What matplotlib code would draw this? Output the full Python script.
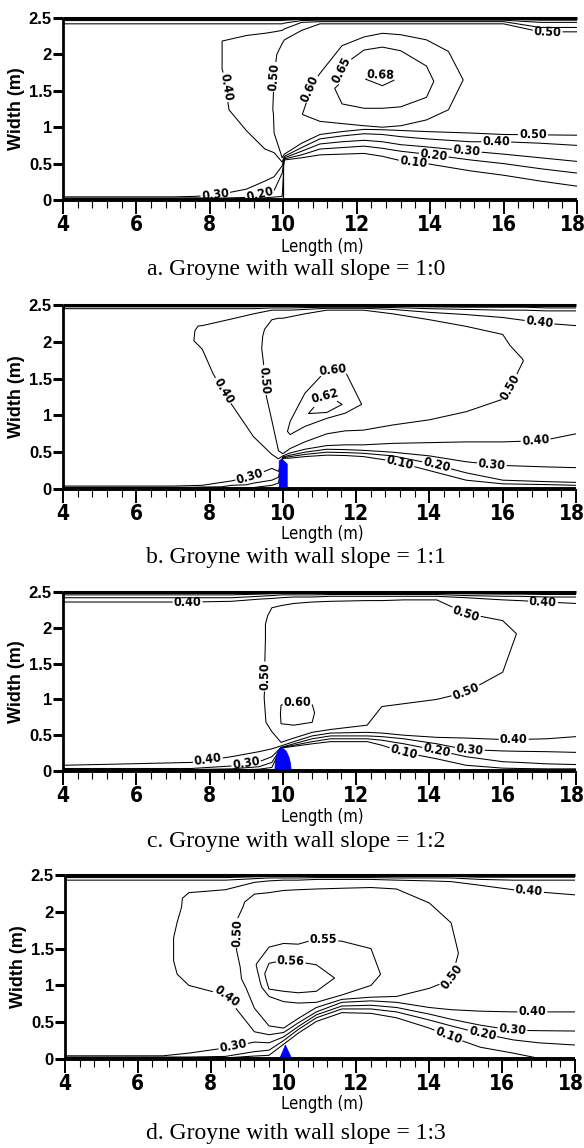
import numpy as np
import matplotlib
matplotlib.use("Agg")
import matplotlib.pyplot as plt
import matplotlib.tri as mtri
from matplotlib.patches import Polygon
from matplotlib.transforms import ScaledTranslation

# ---------------------------------------------------------------------------
# Depth-averaged velocity (m/s) sampled along cross-sections of the flume.
# For each panel: station positions along the flume (m), and for every station
# the lateral positions (m) with the velocity measured there.
# ---------------------------------------------------------------------------

# a. wall slope 1:0
A_X = [4.0, 5.5, 7.0, 7.6, 8.2, 9.0, 9.5, 9.75, 9.97, 10.03, 10.5, 11.0, 11.6,
       12.2, 12.7, 13.2, 13.9, 14.5, 15.1, 16.0, 17.0, 18.0]
A_Y = [
    [0, 0.015, 0.03, 0.045, 0.15, 0.6, 1.2, 1.8, 2.3, 2.42, 2.46, 2.485, 2.5],
    [0, 0.015, 0.03, 0.045, 0.15, 0.6, 1.2, 1.8, 2.3, 2.42, 2.46, 2.485, 2.5],
    [0, 0.015, 0.03, 0.045, 0.15, 0.6, 1.2, 1.8, 2.3, 2.42, 2.46, 2.485, 2.5],
    [0, 0.015, 0.03, 0.05, 0.18, 0.6, 1.2, 1.8, 2.3, 2.42, 2.46, 2.485, 2.5],
    [0, 0.012, 0.025, 0.07, 0.25, 0.7, 1.2, 1.8, 2.2, 2.3, 2.42, 2.46, 2.485, 2.5],
    [0, 0.015, 0.035, 0.15, 0.5, 0.95, 1.3, 1.8, 2.1, 2.26, 2.42, 2.46, 2.485, 2.5],
    [0, 0.03, 0.09, 0.26, 0.45, 0.70, 1.0, 1.5, 2.0, 2.15, 2.29, 2.42, 2.46, 2.485, 2.5],
    [0, 0.04, 0.13, 0.32, 0.50, 0.65, 0.92, 1.2, 1.7, 2.0, 2.2, 2.31, 2.42, 2.46, 2.485, 2.5],
    [0, 0.05, 0.37, 0.47, 0.52, 0.58, 0.8, 1.5, 2.0, 2.15, 2.33, 2.42, 2.46, 2.485, 2.5],
    [0, 0.3, 0.53, 0.55, 0.565, 0.58, 0.60, 0.63, 0.8, 1.2, 1.8, 2.05, 2.2, 2.35, 2.43, 2.465, 2.485, 2.5],
    [0, 0.3, 0.5, 0.58, 0.62, 0.67, 0.72, 0.78, 0.95, 1.17, 1.5, 2.0, 2.2, 2.33, 2.44, 2.465, 2.485, 2.5],
    [0, 0.3, 0.55, 0.62, 0.70, 0.77, 0.84, 0.90, 0.97, 1.08, 1.3, 1.5, 1.74, 2.05, 2.3, 2.42, 2.45, 2.47, 2.485, 2.5],
    [0, 0.3, 0.55, 0.63, 0.72, 0.80, 0.88, 0.94, 0.99, 1.05, 1.32, 1.55, 1.84, 2.12, 2.3, 2.42, 2.45, 2.47, 2.485, 2.5],
    [0, 0.3, 0.56, 0.64, 0.74, 0.82, 0.91, 0.97, 1.02, 1.26, 1.45, 1.66, 1.85, 2.06, 2.24, 2.34, 2.42, 2.45, 2.47, 2.485, 2.5],
    [0, 0.3, 0.52, 0.60, 0.71, 0.80, 0.90, 0.965, 1.0, 1.26, 1.57, 1.65, 1.72, 2.10, 2.29, 2.36, 2.42, 2.45, 2.47, 2.485, 2.5],
    [0, 0.3, 0.46, 0.54, 0.67, 0.76, 0.87, 0.955, 1.02, 1.28, 1.65, 2.05, 2.27, 2.37, 2.42, 2.45, 2.47, 2.485, 2.5],
    [0, 0.3, 0.42, 0.50, 0.63, 0.73, 0.84, 0.94, 1.10, 1.41, 1.62, 1.84, 2.20, 2.36, 2.42, 2.45, 2.47, 2.485, 2.5],
    [0, 0.3, 0.37, 0.45, 0.59, 0.70, 0.82, 0.93, 1.24, 1.65, 2.04, 2.30, 2.42, 2.45, 2.47, 2.485, 2.5],
    [0, 0.25, 0.32, 0.40, 0.55, 0.67, 0.80, 0.92, 1.3, 1.65, 2.0, 2.3, 2.42, 2.45, 2.47, 2.485, 2.5],
    [0, 0.2, 0.27, 0.34, 0.50, 0.63, 0.80, 0.90, 1.3, 1.8, 2.2, 2.35, 2.42, 2.45, 2.47, 2.485, 2.5],
    [0, 0.12, 0.19, 0.26, 0.43, 0.58, 0.78, 0.895, 1.3, 1.8, 2.2, 2.31, 2.37, 2.44, 2.47, 2.49, 2.5],
    [0, 0.06, 0.12, 0.19, 0.37, 0.53, 0.75, 0.89, 1.3, 1.8, 2.2, 2.31, 2.37, 2.44, 2.47, 2.49, 2.5],
]
A_V = [
    [0, 0.12, 0.22, 0.31, 0.35, 0.36, 0.37, 0.37, 0.365, 0.30, 0.22, 0.12, 0],
    [0, 0.12, 0.22, 0.31, 0.35, 0.36, 0.37, 0.37, 0.365, 0.30, 0.22, 0.12, 0],
    [0, 0.12, 0.22, 0.31, 0.35, 0.36, 0.37, 0.37, 0.365, 0.30, 0.22, 0.12, 0],
    [0, 0.12, 0.20, 0.30, 0.34, 0.36, 0.37, 0.375, 0.37, 0.30, 0.22, 0.12, 0],
    [0, 0.10, 0.20, 0.30, 0.34, 0.37, 0.38, 0.39, 0.39, 0.38, 0.30, 0.22, 0.12, 0],
    [0, 0.10, 0.20, 0.30, 0.36, 0.40, 0.43, 0.45, 0.45, 0.40, 0.30, 0.22, 0.12, 0],
    [0, 0.10, 0.20, 0.30, 0.35, 0.40, 0.44, 0.47, 0.48, 0.47, 0.40, 0.30, 0.22, 0.12, 0],
    [0, 0.10, 0.20, 0.30, 0.36, 0.40, 0.50, 0.505, 0.50, 0.49, 0.45, 0.40, 0.30, 0.22, 0.12, 0],
    [0, 0.10, 0.20, 0.30, 0.40, 0.50, 0.53, 0.535, 0.52, 0.50, 0.40, 0.30, 0.22, 0.12, 0],
    [0, 0.02, 0.04, 0.10, 0.20, 0.30, 0.40, 0.50, 0.54, 0.56, 0.55, 0.53, 0.50, 0.40, 0.30, 0.22, 0.12, 0],
    [0, 0.025, 0.04, 0.10, 0.20, 0.30, 0.40, 0.50, 0.56, 0.599, 0.585, 0.57, 0.55, 0.50, 0.40, 0.30, 0.18, 0],
    [0, 0.025, 0.04, 0.10, 0.20, 0.30, 0.40, 0.50, 0.55, 0.60, 0.625, 0.63, 0.60, 0.575, 0.56, 0.50, 0.40, 0.30, 0.18, 0],
    [0, 0.025, 0.04, 0.10, 0.20, 0.30, 0.40, 0.50, 0.55, 0.60, 0.65, 0.66, 0.65, 0.60, 0.57, 0.50, 0.40, 0.30, 0.18, 0],
    [0, 0.025, 0.04, 0.10, 0.20, 0.30, 0.40, 0.50, 0.60, 0.65, 0.67, 0.679, 0.67, 0.65, 0.60, 0.56, 0.50, 0.40, 0.30, 0.18, 0],
    [0, 0.025, 0.04, 0.10, 0.20, 0.30, 0.40, 0.50, 0.60, 0.65, 0.68, 0.69, 0.68, 0.65, 0.60, 0.56, 0.50, 0.40, 0.30, 0.18, 0],
    [0, 0.025, 0.04, 0.10, 0.20, 0.30, 0.40, 0.50, 0.60, 0.65, 0.675, 0.65, 0.60, 0.56, 0.50, 0.40, 0.30, 0.18, 0],
    [0, 0.025, 0.04, 0.10, 0.20, 0.30, 0.40, 0.50, 0.60, 0.65, 0.66, 0.65, 0.60, 0.55, 0.50, 0.40, 0.30, 0.18, 0],
    [0, 0.025, 0.04, 0.10, 0.20, 0.30, 0.40, 0.50, 0.60, 0.63, 0.60, 0.55, 0.50, 0.40, 0.30, 0.18, 0],
    [0, 0.025, 0.04, 0.10, 0.20, 0.30, 0.40, 0.50, 0.57, 0.585, 0.57, 0.54, 0.50, 0.40, 0.30, 0.18, 0],
    [0, 0.025, 0.04, 0.10, 0.20, 0.30, 0.40, 0.50, 0.55, 0.56, 0.55, 0.52, 0.50, 0.40, 0.30, 0.18, 0],
    [0, 0.025, 0.04, 0.10, 0.20, 0.30, 0.40, 0.50, 0.54, 0.545, 0.53, 0.50, 0.40, 0.30, 0.20, 0.10, 0],
    [0, 0.025, 0.04, 0.10, 0.20, 0.30, 0.40, 0.50, 0.54, 0.545, 0.53, 0.50, 0.40, 0.30, 0.20, 0.10, 0],
]

# b. wall slope 1:1
B_X = [4.0, 5.5, 7.0, 7.8, 8.6, 9.2, 9.7, 9.88, 10.0, 10.2, 10.6, 11.2, 11.7,
       12.2, 13.0, 14.0, 15.0, 16.0, 16.6, 17.2, 18.0]
B_Y = [
    [0, 0.015, 0.04, 0.15, 0.6, 1.2, 1.8, 2.3, 2.45, 2.475, 2.49, 2.5],
    [0, 0.015, 0.04, 0.15, 0.6, 1.2, 1.8, 2.3, 2.45, 2.475, 2.49, 2.5],
    [0, 0.015, 0.04, 0.15, 0.6, 1.2, 1.8, 2.3, 2.45, 2.475, 2.49, 2.5],
    [0, 0.015, 0.05, 0.2, 0.6, 1.0, 1.6, 1.9, 2.1, 2.2, 2.26, 2.35, 2.45, 2.475, 2.49, 2.5],
    [0, 0.02, 0.11, 0.4, 0.8, 1.15, 1.5, 1.9, 2.15, 2.31, 2.38, 2.45, 2.475, 2.49, 2.5],
    [0, 0.03, 0.18, 0.45, 0.71, 1.1, 1.6, 2.0, 2.2, 2.38, 2.45, 2.475, 2.49, 2.5],
    [0, 0.05, 0.12, 0.28, 0.47, 0.93, 1.3, 1.8, 2.15, 2.30, 2.43, 2.46, 2.48, 2.49, 2.5],
    [0, 0.08, 0.16, 0.24, 0.36, 0.41, 0.52, 0.6, 0.72, 1.3, 1.8, 2.2, 2.32, 2.43, 2.46, 2.48, 2.49, 2.5],
    [0, 0.30, 0.40, 0.415, 0.425, 0.435, 0.45, 0.48, 0.6, 0.72, 1.2, 1.8, 2.2, 2.32, 2.43, 2.46, 2.48, 2.49, 2.5],
    [0, 0.3, 0.42, 0.44, 0.46, 0.49, 0.55, 0.74, 0.82, 0.92, 1.3, 1.8, 2.2, 2.34, 2.43, 2.46, 2.48, 2.49, 2.5],
    [0, 0.3, 0.44, 0.47, 0.50, 0.54, 0.64, 0.85, 1.0, 1.3, 1.7, 2.1, 2.38, 2.44, 2.465, 2.48, 2.495, 2.5],
    [0, 0.3, 0.46, 0.50, 0.54, 0.59, 0.75, 0.96, 1.04, 1.15, 1.28, 1.62, 2.0, 2.3, 2.43, 2.455, 2.47, 2.485, 2.495, 2.5],
    [0, 0.3, 0.455, 0.495, 0.535, 0.60, 0.79, 1.03, 1.15, 1.60, 2.0, 2.3, 2.43, 2.455, 2.47, 2.485, 2.495, 2.5],
    [0, 0.3, 0.44, 0.485, 0.525, 0.60, 0.80, 1.15, 1.6, 2.0, 2.3, 2.43, 2.455, 2.47, 2.485, 2.495, 2.5],
    [0, 0.2, 0.38, 0.45, 0.50, 0.62, 0.87, 1.2, 1.8, 2.2, 2.38, 2.44, 2.465, 2.48, 2.495, 2.5],
    [0, 0.15, 0.25, 0.35, 0.45, 0.63, 0.94, 1.3, 1.8, 2.1, 2.30, 2.40, 2.45, 2.475, 2.49, 2.5],
    [0, 0.06, 0.12, 0.22, 0.37, 0.64, 1.05, 1.5, 1.9, 2.21, 2.37, 2.44, 2.47, 2.49, 2.5],
    [0, 0.04, 0.07, 0.12, 0.32, 0.64, 1.22, 1.6, 1.9, 2.1, 2.33, 2.43, 2.47, 2.49, 2.5],
    [0, 0.035, 0.065, 0.11, 0.31, 0.65, 1.2, 1.75, 2.05, 2.29, 2.43, 2.47, 2.49, 2.5],
    [0, 0.03, 0.06, 0.10, 0.30, 0.67, 1.2, 1.75, 2.0, 2.25, 2.42, 2.46, 2.485, 2.5],
    [0, 0.03, 0.05, 0.09, 0.29, 0.75, 1.2, 1.75, 2.0, 2.22, 2.42, 2.46, 2.485, 2.5],
]
B_V = [
    [0, 0.15, 0.30, 0.35, 0.36, 0.37, 0.37, 0.37, 0.30, 0.20, 0.10, 0],
    [0, 0.15, 0.30, 0.35, 0.36, 0.37, 0.37, 0.37, 0.30, 0.20, 0.10, 0],
    [0, 0.15, 0.30, 0.35, 0.36, 0.37, 0.375, 0.37, 0.30, 0.20, 0.10, 0],
    [0, 0.15, 0.30, 0.35, 0.36, 0.37, 0.385, 0.40, 0.41, 0.405, 0.39, 0.37, 0.30, 0.20, 0.10, 0],
    [0, 0.15, 0.30, 0.35, 0.38, 0.40, 0.425, 0.44, 0.44, 0.40, 0.36, 0.30, 0.20, 0.10, 0],
    [0, 0.15, 0.30, 0.36, 0.40, 0.45, 0.47, 0.48, 0.47, 0.40, 0.30, 0.20, 0.10, 0],
    [0, 0.10, 0.20, 0.30, 0.40, 0.50, 0.52, 0.525, 0.52, 0.50, 0.40, 0.30, 0.20, 0.10, 0],
    [0, 0.10, 0.20, 0.30, 0.38, 0.40, 0.50, 0.55, 0.56, 0.55, 0.54, 0.52, 0.50, 0.40, 0.30, 0.20, 0.10, 0],
    [0, 0.02, 0.05, 0.10, 0.20, 0.30, 0.40, 0.50, 0.56, 0.59, 0.56, 0.545, 0.52, 0.50, 0.40, 0.30, 0.20, 0.10, 0],
    [0, 0.03, 0.10, 0.20, 0.30, 0.40, 0.50, 0.60, 0.606, 0.60, 0.57, 0.55, 0.53, 0.50, 0.40, 0.30, 0.20, 0.10, 0],
    [0, 0.03, 0.10, 0.20, 0.30, 0.40, 0.50, 0.60, 0.618, 0.60, 0.57, 0.54, 0.50, 0.40, 0.30, 0.20, 0.10, 0],
    [0, 0.03, 0.10, 0.20, 0.30, 0.40, 0.50, 0.60, 0.62, 0.63, 0.62, 0.60, 0.56, 0.53, 0.50, 0.40, 0.30, 0.20, 0.10, 0],
    [0, 0.03, 0.10, 0.20, 0.30, 0.40, 0.50, 0.60, 0.618, 0.60, 0.56, 0.53, 0.50, 0.40, 0.30, 0.20, 0.10, 0],
    [0, 0.03, 0.10, 0.20, 0.30, 0.40, 0.50, 0.598, 0.58, 0.55, 0.52, 0.50, 0.40, 0.30, 0.20, 0.10, 0],
    [0, 0.03, 0.10, 0.20, 0.30, 0.40, 0.50, 0.56, 0.55, 0.52, 0.50, 0.40, 0.30, 0.20, 0.10, 0],
    [0, 0.04, 0.10, 0.20, 0.30, 0.40, 0.50, 0.54, 0.54, 0.52, 0.50, 0.40, 0.30, 0.20, 0.10, 0],
    [0, 0.05, 0.10, 0.20, 0.30, 0.40, 0.50, 0.53, 0.52, 0.50, 0.40, 0.30, 0.20, 0.10, 0],
    [0, 0.07, 0.10, 0.20, 0.30, 0.40, 0.50, 0.515, 0.51, 0.50, 0.40, 0.30, 0.20, 0.10, 0],
    [0, 0.07, 0.10, 0.20, 0.30, 0.40, 0.48, 0.499, 0.48, 0.40, 0.30, 0.20, 0.10, 0],
    [0, 0.08, 0.10, 0.20, 0.30, 0.40, 0.47, 0.48, 0.46, 0.40, 0.30, 0.20, 0.10, 0],
    [0, 0.08, 0.10, 0.20, 0.30, 0.40, 0.46, 0.47, 0.45, 0.40, 0.30, 0.20, 0.10, 0],
]

# c. wall slope 1:2
C_X = [4.0, 5.8, 7.5, 8.6, 9.35, 9.7, 9.95, 10.3, 10.8, 11.3, 12.3, 12.7, 13.3,
       14.2, 15.0, 16.0, 16.45, 17.2, 18.0]
C_Y = [
    [0, 0.01, 0.02, 0.035, 0.08, 0.3, 0.8, 1.4, 2.0, 2.2, 2.36, 2.42, 2.46, 2.485, 2.5],
    [0, 0.01, 0.02, 0.035, 0.10, 0.3, 0.8, 1.4, 2.0, 2.2, 2.36, 2.42, 2.46, 2.485, 2.5],
    [0, 0.01, 0.02, 0.035, 0.12, 0.4, 0.8, 1.4, 2.0, 2.2, 2.36, 2.42, 2.46, 2.485, 2.5],
    [0, 0.015, 0.03, 0.07, 0.20, 0.5, 0.9, 1.4, 2.0, 2.2, 2.37, 2.42, 2.46, 2.485, 2.5],
    [0, 0.025, 0.06, 0.13, 0.27, 0.6, 1.2, 1.7, 2.1, 2.3, 2.40, 2.44, 2.47, 2.49, 2.5],
    [0, 0.05, 0.12, 0.2, 0.31, 0.55, 0.75, 1.2, 2.0, 2.2, 2.28, 2.41, 2.45, 2.475, 2.49, 2.5],
    [0, 0.30, 0.32, 0.325, 0.33, 0.35, 0.40, 0.66, 0.8, 0.92, 1.5, 2.0, 2.31, 2.42, 2.46, 2.48, 2.495, 2.5],
    [0, 0.2, 0.345, 0.36, 0.38, 0.41, 0.46, 0.64, 0.8, 0.96, 1.3, 2.0, 2.34, 2.43, 2.46, 2.48, 2.495, 2.5],
    [0, 0.25, 0.38, 0.41, 0.45, 0.49, 0.54, 0.68, 0.8, 0.93, 1.3, 2.0, 2.36, 2.43, 2.46, 2.48, 2.495, 2.5],
    [0, 0.25, 0.41, 0.45, 0.49, 0.53, 0.58, 0.9, 1.5, 2.0, 2.37, 2.44, 2.465, 2.48, 2.495, 2.5],
    [0, 0.25, 0.41, 0.45, 0.49, 0.54, 0.64, 0.9, 1.5, 2.0, 2.38, 2.44, 2.465, 2.48, 2.495, 2.5],
    [0, 0.2, 0.36, 0.43, 0.48, 0.53, 0.90, 1.2, 1.6, 2.0, 2.38, 2.44, 2.465, 2.48, 2.495, 2.5],
    [0, 0.15, 0.26, 0.38, 0.45, 0.50, 0.94, 1.3, 1.8, 2.1, 2.39, 2.44, 2.465, 2.48, 2.495, 2.5],
    [0, 0.1, 0.17, 0.29, 0.38, 0.47, 1.0, 1.4, 1.8, 2.2, 2.39, 2.44, 2.465, 2.48, 2.495, 2.5],
    [0, 0.04, 0.08, 0.20, 0.30, 0.46, 1.10, 1.5, 1.9, 2.20, 2.42, 2.45, 2.475, 2.49, 2.5],
    [0, 0.02, 0.04, 0.13, 0.28, 0.44, 1.38, 1.75, 2.1, 2.39, 2.44, 2.47, 2.49, 2.5],
    [0, 0.02, 0.035, 0.12, 0.275, 0.44, 1.2, 1.95, 2.2, 2.38, 2.44, 2.47, 2.49, 2.5],
    [0, 0.02, 0.03, 0.10, 0.27, 0.45, 1.2, 1.8, 2.1, 2.36, 2.43, 2.465, 2.49, 2.5],
    [0, 0.02, 0.03, 0.09, 0.26, 0.48, 1.2, 1.8, 2.1, 2.34, 2.43, 2.465, 2.49, 2.5],
]
C_V = [
    [0, 0.10, 0.20, 0.30, 0.40, 0.44, 0.45, 0.45, 0.45, 0.44, 0.40, 0.30, 0.20, 0.10, 0],
    [0, 0.10, 0.20, 0.30, 0.40, 0.44, 0.45, 0.45, 0.45, 0.44, 0.40, 0.30, 0.20, 0.10, 0],
    [0, 0.10, 0.20, 0.30, 0.40, 0.44, 0.45, 0.45, 0.45, 0.44, 0.40, 0.30, 0.20, 0.10, 0],
    [0, 0.10, 0.20, 0.30, 0.40, 0.45, 0.46, 0.46, 0.46, 0.45, 0.40, 0.30, 0.20, 0.10, 0],
    [0, 0.10, 0.20, 0.30, 0.40, 0.465, 0.48, 0.48, 0.48, 0.45, 0.40, 0.30, 0.20, 0.10, 0],
    [0, 0.10, 0.20, 0.30, 0.40, 0.50, 0.53, 0.525, 0.52, 0.51, 0.50, 0.40, 0.30, 0.20, 0.10, 0],
    [0, 0.02, 0.10, 0.20, 0.30, 0.40, 0.50, 0.60, 0.605, 0.60, 0.55, 0.53, 0.50, 0.40, 0.30, 0.20, 0.10, 0],
    [0, 0.03, 0.10, 0.20, 0.30, 0.40, 0.50, 0.60, 0.612, 0.60, 0.57, 0.54, 0.50, 0.40, 0.30, 0.20, 0.10, 0],
    [0, 0.03, 0.10, 0.20, 0.30, 0.40, 0.50, 0.60, 0.606, 0.60, 0.57, 0.54, 0.50, 0.40, 0.30, 0.20, 0.10, 0],
    [0, 0.03, 0.10, 0.20, 0.30, 0.40, 0.50, 0.56, 0.55, 0.53, 0.50, 0.40, 0.30, 0.20, 0.10, 0],
    [0, 0.03, 0.10, 0.20, 0.30, 0.40, 0.50, 0.54, 0.55, 0.53, 0.50, 0.40, 0.30, 0.20, 0.10, 0],
    [0, 0.03, 0.10, 0.20, 0.30, 0.40, 0.50, 0.54, 0.545, 0.53, 0.50, 0.40, 0.30, 0.20, 0.10, 0],
    [0, 0.04, 0.10, 0.20, 0.30, 0.40, 0.50, 0.535, 0.535, 0.52, 0.50, 0.40, 0.30, 0.20, 0.10, 0],
    [0, 0.05, 0.10, 0.20, 0.30, 0.40, 0.50, 0.53, 0.53, 0.515, 0.50, 0.40, 0.30, 0.20, 0.10, 0],
    [0, 0.06, 0.10, 0.20, 0.30, 0.40, 0.50, 0.52, 0.52, 0.50, 0.40, 0.30, 0.20, 0.10, 0],
    [0, 0.07, 0.10, 0.20, 0.30, 0.40, 0.50, 0.505, 0.50, 0.40, 0.30, 0.20, 0.10, 0],
    [0, 0.07, 0.10, 0.20, 0.30, 0.40, 0.48, 0.499, 0.47, 0.40, 0.30, 0.20, 0.10, 0],
    [0, 0.08, 0.10, 0.20, 0.30, 0.40, 0.47, 0.48, 0.46, 0.40, 0.30, 0.20, 0.10, 0],
    [0, 0.08, 0.10, 0.20, 0.30, 0.40, 0.46, 0.47, 0.45, 0.40, 0.30, 0.20, 0.10, 0],
]

# d. wall slope 1:3
D_X = [4.0, 5.5, 6.6, 7.4, 8.4, 9.2, 9.6, 10.0, 10.4, 10.9, 11.6, 12.4, 13.1,
       14.0, 14.6, 15.4, 16.3, 17.0, 18.0]
D_Y = [
    [0, 0.015, 0.03, 0.045, 0.15, 0.6, 1.2, 1.8, 2.3, 2.43, 2.465, 2.485, 2.5],
    [0, 0.015, 0.03, 0.045, 0.15, 0.6, 1.2, 1.8, 2.3, 2.43, 2.465, 2.485, 2.5],
    [0, 0.015, 0.03, 0.045, 0.15, 0.6, 1.2, 1.8, 2.3, 2.43, 2.465, 2.485, 2.5],
    [0, 0.015, 0.03, 0.08, 0.3, 0.94, 1.12, 1.48, 1.9, 2.15, 2.26, 2.43, 2.465, 2.485, 2.5],
    [0, 0.015, 0.035, 0.15, 0.5, 0.87, 1.2, 1.6, 2.0, 2.2, 2.30, 2.43, 2.465, 2.485, 2.5],
    [0, 0.04, 0.1, 0.23, 0.37, 0.69, 1.0, 1.3, 1.8, 2.1, 2.24, 2.40, 2.45, 2.475, 2.49, 2.5],
    [0, 0.05, 0.12, 0.22, 0.33, 0.45, 0.85, 0.95, 1.1, 1.3, 1.52, 2.0, 2.26, 2.42, 2.46, 2.48, 2.495, 2.5],
    [0, 0.17, 0.20, 0.25, 0.30, 0.36, 0.42, 0.78, 0.92, 1.1, 1.34, 1.57, 2.0, 2.29, 2.43, 2.46, 2.48, 2.495, 2.5],
    [0, 0.2, 0.35, 0.40, 0.44, 0.49, 0.55, 0.76, 0.90, 1.1, 1.32, 1.56, 2.0, 2.30, 2.43, 2.46, 2.48, 2.495, 2.5],
    [0, 0.3, 0.51, 0.56, 0.60, 0.64, 0.70, 0.77, 0.92, 1.1, 1.28, 1.63, 2.0, 2.31, 2.44, 2.465, 2.48, 2.495, 2.5],
    [0, 0.4, 0.63, 0.68, 0.72, 0.77, 0.81, 0.87, 1.1, 1.6, 2.1, 2.32, 2.44, 2.465, 2.48, 2.495, 2.5],
    [0, 0.4, 0.62, 0.68, 0.73, 0.79, 0.84, 1.0, 1.15, 1.5, 2.0, 2.33, 2.44, 2.465, 2.48, 2.495, 2.5],
    [0, 0.35, 0.56, 0.64, 0.70, 0.77, 0.85, 1.15, 1.8, 2.31, 2.43, 2.46, 2.48, 2.495, 2.5],
    [0, 0.25, 0.42, 0.53, 0.61, 0.70, 0.96, 1.4, 1.8, 2.12, 2.3, 2.42, 2.46, 2.48, 2.495, 2.5],
    [0, 0.15, 0.30, 0.45, 0.54, 0.67, 1.08, 1.45, 1.85, 2.2, 2.41, 2.46, 2.48, 2.495, 2.5],
    [0, 0.06, 0.16, 0.35, 0.46, 0.65, 1.4, 2.1, 2.36, 2.44, 2.47, 2.49, 2.5],
    [0, 0.03, 0.08, 0.26, 0.39, 0.64, 1.4, 2.0, 2.30, 2.43, 2.47, 2.49, 2.5],
    [0, 0.01, 0.1, 0.22, 0.385, 0.64, 1.4, 2.0, 2.27, 2.43, 2.47, 2.49, 2.5],
    [0, 0.01, 0.1, 0.19, 0.38, 0.64, 1.4, 2.0, 2.23, 2.43, 2.47, 2.49, 2.5],
]
D_V = [
    [0, 0.12, 0.22, 0.31, 0.35, 0.36, 0.37, 0.37, 0.365, 0.30, 0.20, 0.10, 0],
    [0, 0.12, 0.22, 0.31, 0.35, 0.36, 0.37, 0.37, 0.365, 0.30, 0.20, 0.10, 0],
    [0, 0.12, 0.22, 0.31, 0.35, 0.36, 0.37, 0.37, 0.365, 0.30, 0.20, 0.10, 0],
    [0, 0.12, 0.22, 0.30, 0.35, 0.39, 0.42, 0.433, 0.42, 0.41, 0.40, 0.30, 0.20, 0.10, 0],
    [0, 0.10, 0.20, 0.30, 0.36, 0.40, 0.45, 0.47, 0.47, 0.46, 0.40, 0.30, 0.20, 0.10, 0],
    [0, 0.10, 0.20, 0.30, 0.40, 0.50, 0.54, 0.548, 0.54, 0.52, 0.50, 0.40, 0.30, 0.20, 0.10, 0],
    [0, 0.10, 0.20, 0.30, 0.40, 0.50, 0.55, 0.56, 0.565, 0.56, 0.55, 0.52, 0.50, 0.40, 0.30, 0.20, 0.10, 0],
    [0, 0.04, 0.10, 0.20, 0.30, 0.40, 0.50, 0.55, 0.56, 0.567, 0.56, 0.55, 0.52, 0.50, 0.40, 0.30, 0.20, 0.10, 0],
    [0, 0.03, 0.10, 0.20, 0.30, 0.40, 0.50, 0.55, 0.56, 0.566, 0.56, 0.55, 0.52, 0.50, 0.40, 0.30, 0.20, 0.10, 0],
    [0, 0.03, 0.10, 0.20, 0.30, 0.40, 0.50, 0.55, 0.56, 0.565, 0.56, 0.55, 0.52, 0.50, 0.40, 0.30, 0.20, 0.10, 0],
    [0, 0.03, 0.10, 0.20, 0.30, 0.40, 0.50, 0.55, 0.558, 0.55, 0.52, 0.50, 0.40, 0.30, 0.20, 0.10, 0],
    [0, 0.03, 0.10, 0.20, 0.30, 0.40, 0.50, 0.55, 0.556, 0.55, 0.52, 0.50, 0.40, 0.30, 0.20, 0.10, 0],
    [0, 0.03, 0.10, 0.20, 0.30, 0.40, 0.50, 0.54, 0.52, 0.50, 0.40, 0.30, 0.20, 0.10, 0],
    [0, 0.04, 0.10, 0.20, 0.30, 0.40, 0.50, 0.52, 0.515, 0.50, 0.45, 0.40, 0.30, 0.20, 0.10, 0],
    [0, 0.05, 0.10, 0.20, 0.30, 0.40, 0.50, 0.51, 0.50, 0.45, 0.40, 0.30, 0.20, 0.10, 0],
    [0, 0.06, 0.10, 0.20, 0.30, 0.40, 0.47, 0.44, 0.40, 0.30, 0.20, 0.10, 0],
    [0, 0.07, 0.10, 0.20, 0.30, 0.40, 0.46, 0.43, 0.40, 0.30, 0.20, 0.10, 0],
    [0, 0.10, 0.15, 0.20, 0.30, 0.40, 0.46, 0.43, 0.40, 0.30, 0.20, 0.10, 0],
    [0, 0.10, 0.16, 0.20, 0.30, 0.40, 0.45, 0.42, 0.40, 0.30, 0.20, 0.10, 0],
]

# contour levels drawn in each panel
A_LEVELS = [0.10, 0.20, 0.30, 0.40, 0.50, 0.60, 0.65, 0.68]
B_LEVELS = [0.10, 0.20, 0.30, 0.40, 0.50, 0.60, 0.62]
C_LEVELS = [0.10, 0.20, 0.30, 0.40, 0.50, 0.60]
D_LEVELS = [0.10, 0.20, 0.30, 0.40, 0.50, 0.55, 0.56]

# where the contour values are written
A_LABELS = [(8.45, 1.55), (9.8, 1.69), (10.8, 1.5), (11.7, 1.78), (12.66, 1.72),
            (16.8, 0.89), (15.8, 0.79), (15.0, 0.69), (14.1, 0.62), (13.55, 0.52),
            (8.15, 0.07), (9.35, 0.1), (17.2, 2.31)]
B_LABELS = [(8.55, 1.39), (9.46, 1.48), (11.37, 1.62), (11.1, 1.28), (16.3, 1.35),
            (17.0, 2.25), (16.9, 0.64), (15.7, 0.32), (14.2, 0.33), (13.2, 0.36),
            (9.1, 0.17)]
C_LABELS = [(7.4, 2.36), (9.52, 1.32), (10.4, 0.97), (15.0, 2.2), (15.0, 1.1),
            (17.1, 2.36), (16.3, 0.44), (15.1, 0.30), (14.2, 0.29), (13.3, 0.26),
            (7.96, 0.13), (9.0, 0.1)]
D_LABELS = [(8.86, 1.71), (8.44, 0.85), (11.09, 1.62), (10.2, 1.35), (14.55, 1.12),
            (16.74, 2.30), (16.83, 0.64), (16.28, 0.39), (15.46, 0.35), (14.46, 0.24),
            (8.62, 0.17)]

# groyne outlines (length m, width m)
B_GROYNE = [(9.9, 0.0), (9.9, 0.38), (9.97, 0.41), (10.12, 0.34), (10.12, 0.0)]
C_GROYNE = [(9.78, 0.0), (9.8, 0.16), (9.85, 0.26), (9.93, 0.32), (10.02, 0.31),
            (10.1, 0.27), (10.17, 0.19), (10.21, 0.1), (10.23, 0.0)]
D_GROYNE = [(9.89, 0.0), (10.05, 0.19), (10.23, 0.0)]
A_WALL_X = [10.0, 10.0]
A_WALL_Y = [0.0, 0.55]

CAPTIONS = ["a. Groyne with wall slope = 1:0", "b. Groyne with wall slope = 1:1",
            "c. Groyne with wall slope = 1:2", "d. Groyne with wall slope = 1:3"]

SANS = ["Liberation Sans", "DejaVu Sans"]
SERIF = ["Liberation Serif", "DejaVu Serif"]


def build_field(stations, knot_y, knot_v):
    """Triangulate the cross-section samples, stitching neighbouring stations so
    that the new edges join samples of similar velocity."""
    px, py, pv, cols = [], [], [], []
    for x, ys, vs in zip(stations, knot_y, knot_v):
        idx = []
        for y, v in zip(ys, vs):
            idx.append(len(px))
            px.append(x)
            py.append(y)
            pv.append(v)
        cols.append(idx)

    def cost(p, q):
        return abs(pv[p] - pv[q]) + 0.3 * abs(py[p] - py[q])

    tris = []
    for a, b in zip(cols[:-1], cols[1:]):
        i = j = 0
        while i < len(a) - 1 or j < len(b) - 1:
            if j == len(b) - 1:
                step_a = True
            elif i == len(a) - 1:
                step_a = False
            else:
                step_a = cost(a[i + 1], b[j]) <= cost(a[i], b[j + 1])
            if step_a:
                tris.append((a[i], a[i + 1], b[j]))
                i += 1
            else:
                tris.append((a[i], b[j + 1], b[j]))
                j += 1
    return mtri.Triangulation(px, py, tris), np.array(pv)


W, H = 584, 1148
fig = plt.figure(figsize=(W / 100, H / 100), dpi=100)

# axes frames in pixels: left, right, top (y=2.5), bottom (y=0)
frames = [(63, 577, 18, 200), (63, 576, 305, 489), (63, 576, 592, 771), (65, 575, 875, 1059)]
xlabel_y = [247, 534, 817, 1104]
caption_y = [270, 557, 842, 1134]

panels = [
    (A_X, A_Y, A_V, A_LEVELS, A_LABELS),
    (B_X, B_Y, B_V, B_LEVELS, B_LABELS),
    (C_X, C_Y, C_V, C_LEVELS, C_LABELS),
    (D_X, D_Y, D_V, D_LEVELS, D_LABELS),
]

for i, (sx, ky, kv, levels, labels) in enumerate(panels):
    l, r, t, b = frames[i]
    ax = fig.add_axes([l / W, 1 - b / H, (r - l) / W, (b - t) / H])
    tri, vals = build_field(sx, ky, kv)
    cs = ax.tricontour(tri, vals, levels=levels, colors="black", linewidths=0.75)
    txt = ax.clabel(cs, manual=labels, inline=True, inline_spacing=1,
                    fmt="%.2f", fontsize=9)
    for tx in txt:
        tx.set_fontfamily(["DejaVu Sans"])
        tx.set_fontstretch("condensed")
        tx.set_fontweight("bold")

    if i == 0:
        ax.plot(A_WALL_X, A_WALL_Y, color="black", lw=0.9, zorder=5)
    else:
        shape = [B_GROYNE, C_GROYNE, D_GROYNE][i - 1]
        ax.add_patch(Polygon(shape, closed=True, facecolor="#0000ff",
                             edgecolor="#0000ff", lw=0.5, zorder=5))

    ax.set_xlim(4, 18)
    ax.set_ylim(0, 2.5)
    ax.spines["right"].set_visible(False)
    ax.spines["top"].set_linewidth(2.2)
    ax.spines["bottom"].set_linewidth(2.8)
    ax.spines["left"].set_linewidth(2.0)
    for s in ax.spines.values():
        s.set_capstyle("butt")
        s.set_zorder(6)

    ax.set_xticks(range(4, 19, 2))
    ax.set_xticks(np.arange(4.4, 18, 0.4), minor=True)
    ax.set_yticks([0, 0.5, 1, 1.5, 2, 2.5])
    ax.set_yticklabels(["0", "0.5", "1", "1.5", "2", "2.5"])
    ax.tick_params(axis="x", which="major", direction="out", length=10, width=1.4,
                   pad=1)
    ax.tick_params(axis="x", which="minor", direction="out", length=6, width=0.8)
    ax.tick_params(axis="y", which="major", direction="out", length=7, width=2.2,
                   pad=1)
    xlabs = ax.get_xticklabels()
    for lab in xlabs:
        lab.set_fontfamily(["DejaVu Sans"])
        lab.set_fontstretch("condensed")
        lab.set_fontweight("bold")
        lab.set_fontsize(15)
    xlabs[-1].set_transform(xlabs[-1].get_transform()
                            + ScaledTranslation(-0.04, 0, fig.dpi_scale_trans))
    for lab in ax.get_yticklabels():
        lab.set_fontfamily(SANS)
        lab.set_fontweight("bold")
        lab.set_fontsize(12)
    ax.set_ylabel("Width (m)", fontfamily=SANS, fontweight="bold", fontsize=13,
                  labelpad=3)

    fig.text(322 / W, 1 - xlabel_y[i] / H, "Length (m)", ha="center", va="center",
             fontfamily=["DejaVu Sans"], fontstretch="condensed", fontsize=12)
    fig.text(296 / W, 1 - caption_y[i] / H, CAPTIONS[i], ha="center", va="center",
             fontfamily=SERIF, fontsize=17)

fig.savefig("out.png", dpi=100)
